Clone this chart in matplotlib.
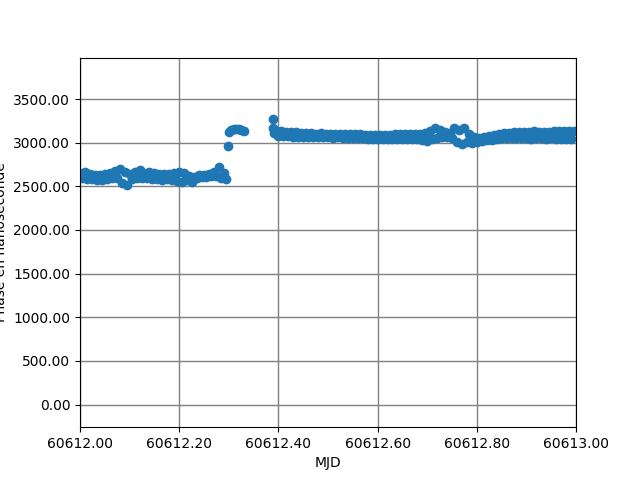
import matplotlib
matplotlib.use('Agg')
import matplotlib.pyplot as plt
from matplotlib.ticker import FormatStrFormatter
import numpy as np

MJD0 = 60612.0

# before the jump
t_a = [0.000, 0.005, 0.010, 0.015, 0.020, 0.025, 0.030, 0.035, 0.040, 0.045,
       0.050, 0.055, 0.060, 0.065, 0.070, 0.075, 0.080, 0.085, 0.090, 0.095,
       0.100, 0.105, 0.110, 0.115, 0.120, 0.125, 0.130, 0.135, 0.140, 0.145,
       0.150, 0.155, 0.160, 0.165, 0.170, 0.175, 0.180, 0.185, 0.190, 0.195,
       0.200, 0.205, 0.210, 0.215, 0.220, 0.225, 0.230, 0.235, 0.240, 0.245,
       0.250, 0.255, 0.260, 0.265, 0.270, 0.275, 0.280, 0.285, 0.290, 0.295]
ph_a = [2650, 2590, 2660, 2585, 2640, 2580, 2625, 2570, 2630, 2575,
        2640, 2580, 2650, 2590, 2670, 2600, 2695, 2540, 2660, 2520,
        2640, 2580, 2660, 2600, 2685, 2600, 2650, 2590, 2660, 2580,
        2650, 2585, 2640, 2575, 2645, 2580, 2640, 2575, 2650, 2560,
        2660, 2550, 2650, 2570, 2620, 2550, 2610, 2590, 2625, 2605,
        2630, 2605, 2640, 2615, 2660, 2620, 2720, 2590, 2650, 2580]

# jump
t_b = [0.298, 0.300, 0.305, 0.310, 0.315, 0.320, 0.325, 0.330]
ph_b = [2957, 3120, 3140, 3155, 3160, 3160, 3150, 3135]

# after the gap
t_c = [0.389, 0.390, 0.391, 0.392,
       0.395, 0.400, 0.405, 0.410, 0.415, 0.420, 0.425, 0.430, 0.435, 0.440,
       0.445, 0.450, 0.455, 0.460, 0.465, 0.470, 0.475, 0.480, 0.485, 0.490,
       0.495, 0.500, 0.505, 0.510, 0.515, 0.520, 0.525, 0.530, 0.535, 0.540,
       0.545, 0.550, 0.555, 0.560, 0.565, 0.570, 0.575, 0.580, 0.585, 0.590,
       0.595, 0.600, 0.605, 0.610, 0.615, 0.620, 0.625, 0.630, 0.635, 0.640,
       0.645, 0.650, 0.655, 0.660, 0.665, 0.670, 0.675, 0.680, 0.685, 0.690,
       0.695, 0.700, 0.705, 0.710, 0.715, 0.720, 0.725, 0.730, 0.735, 0.740,
       0.745, 0.750, 0.755, 0.760, 0.765, 0.770, 0.775, 0.780, 0.785, 0.790,
       0.795, 0.800, 0.805, 0.810, 0.815, 0.820, 0.825, 0.830, 0.835, 0.840,
       0.845, 0.850, 0.855, 0.860, 0.865, 0.870, 0.875, 0.880, 0.885, 0.890,
       0.895, 0.900, 0.905, 0.910, 0.915, 0.920, 0.925, 0.930, 0.935, 0.940,
       0.945, 0.950, 0.955, 0.960, 0.965, 0.970, 0.975, 0.980, 0.985, 0.990,
       0.995]
ph_c = [3275, 3170, 3140, 3110,
        3135, 3075, 3130, 3072, 3128, 3078, 3122, 3070, 3125, 3068,
        3115, 3070, 3112, 3064, 3110, 3066, 3105, 3062, 3108, 3060,
        3105, 3060, 3102, 3058, 3104, 3060, 3100, 3056, 3102, 3058,
        3098, 3055, 3100, 3052, 3095, 3050, 3092, 3048, 3090, 3045,
        3088, 3044, 3090, 3045, 3092, 3046, 3090, 3044, 3095, 3048,
        3094, 3045, 3096, 3042, 3100, 3040, 3098, 3038, 3105, 3030,
        3115, 3020, 3130, 3045, 3165, 3055, 3150, 3060, 3125, 3065,
        3110, 3050, 3170, 3010, 3145, 2985, 3170, 3010, 3095, 3000,
        3060, 3012, 3058, 3018, 3066, 3028, 3078, 3036, 3090, 3045,
        3100, 3052, 3110, 3055, 3112, 3058, 3118, 3055, 3120, 3052,
        3125, 3050, 3128, 3048, 3132, 3050, 3128, 3052, 3124, 3048,
        3128, 3050, 3130, 3045, 3134, 3042, 3136, 3040, 3132, 3042,
        3130]

mjd = MJD0 + np.array(t_a + t_b + t_c)
phase = np.array(ph_a + ph_b + ph_c)

fig, ax = plt.subplots(figsize=(6.4, 4.8), dpi=100)
ax.scatter(mjd, phase)
ax.set_xlim(60612.0, 60613.0)
ax.set_ylim(-260, 3975)
ax.xaxis.set_major_formatter(FormatStrFormatter('%.2f'))
ax.yaxis.set_major_formatter(FormatStrFormatter('%.2f'))
ax.grid(True, color='grey', linewidth=1)
ax.set_axisbelow(True)
ax.set_xlabel('MJD')
ax.set_ylabel('Phase en nanoseconde')
plt.savefig('out.png')
